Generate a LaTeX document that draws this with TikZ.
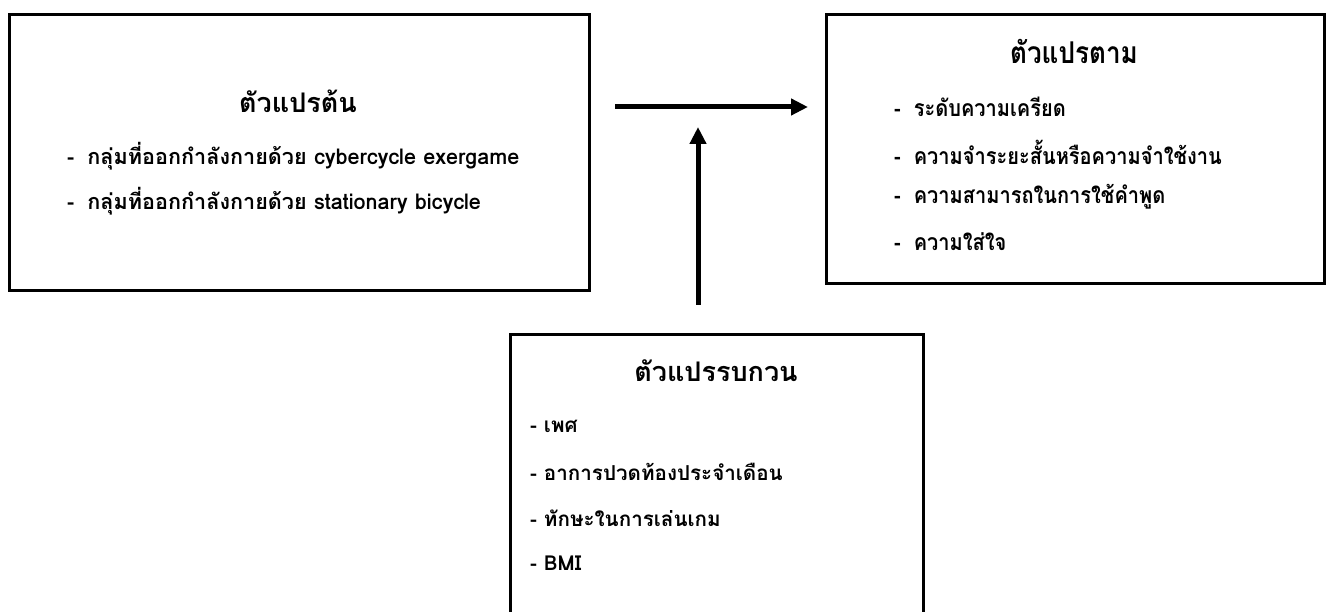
\documentclass[tikz,border=0pt]{standalone}
\usepackage{fontspec}
\newfontfamily\thai[Script=Thai]{Loma}
\newfontfamily\thaicond[Script=Thai,FakeStretch=0.87]{Loma}
\usetikzlibrary{arrows.meta}
\begin{document}
\begin{tikzpicture}[x=1pt,y=-1pt,
  box/.style={draw=black,line width=2.6pt,rectangle,anchor=north west,inner sep=0pt},
  ttl/.style={font=\thai\bfseries\fontsize{27}{31}\selectfont,inner sep=0pt,anchor=center},
  rttl/.style={ttl,font=\thaicond\bfseries\fontsize{30}{34}\selectfont},
  itm/.style={font=\thai\bfseries\fontsize{21}{25}\selectfont,inner sep=0pt,anchor=west},
  litm/.style={itm,font=\thai\bfseries\fontsize{21.6}{25}\selectfont},
  ritm/.style={itm,font=\thaicond\bfseries\fontsize{23}{27}\selectfont},
  bitm/.style={itm,font=\thai\bfseries\fontsize{20.6}{25}\selectfont},
  arr/.style={line width=5pt,-{Triangle[length=17pt,width=16pt]}}]
\useasboundingbox (0,0) rectangle (1328,612);
\fill[white] (0,0) rectangle (1328,612);
% boxes
\node[box,minimum width=580pt,minimum height=276pt] (lbox) at (8,13) {};
\node[box,minimum width=498pt,minimum height=269pt] (rbox) at (825,13) {};
\node[box,minimum width=413pt,minimum height=320pt] (bbox) at (509,333) {};
% left texts
\node[ttl] (lt) at (298,101) {ตัวแปรต้น};
\node[litm] (l1) at (67,156) {-\hspace{13pt}กลุ่มที่ออกกำลังกายด้วย cybercycle exergame};
\node[litm] (l2) at (67,201) {-\hspace{13pt}กลุ่มที่ออกกำลังกายด้วย stationary bicycle};
% right texts
\node[rttl] (rt) at (1074,51) {ตัวแปรตาม};
\node[ritm] (r1) at (894,107) {-\hspace{13pt}ระดับความเครียด};
\node[ritm] (r2) at (894,152) {-\hspace{13pt}ความจำระยะสั้นหรือความจำใช้งาน};
\node[ritm] (r3) at (894,197) {-\hspace{13pt}ความสามารถในการใช้คำพูด};
\node[ritm] (r4) at (894,242) {-\hspace{13pt}ความใส่ใจ};
% bottom texts
\node[ttl] (bt) at (716,371) {ตัวแปรรบกวน};
\node[bitm] (b1) at (530,426) {- เพศ};
\node[bitm] (b2) at (530,472) {- อาการปวดท้องประจำเดือน};
\node[bitm] (b3) at (530,518) {- ทักษะในการเล่นเกม};
\node[bitm] (b4) at (530,563) {- BMI};
% arrows
\coordinate (h1) at (615,107);
\coordinate (h2) at (808,107);
\coordinate (v1) at (698,305);
\coordinate (v2) at (698,127);
\draw[arr] (h1) -- (h2);
\draw[arr] (v1) -- (v2);
\end{tikzpicture}
\end{document}
